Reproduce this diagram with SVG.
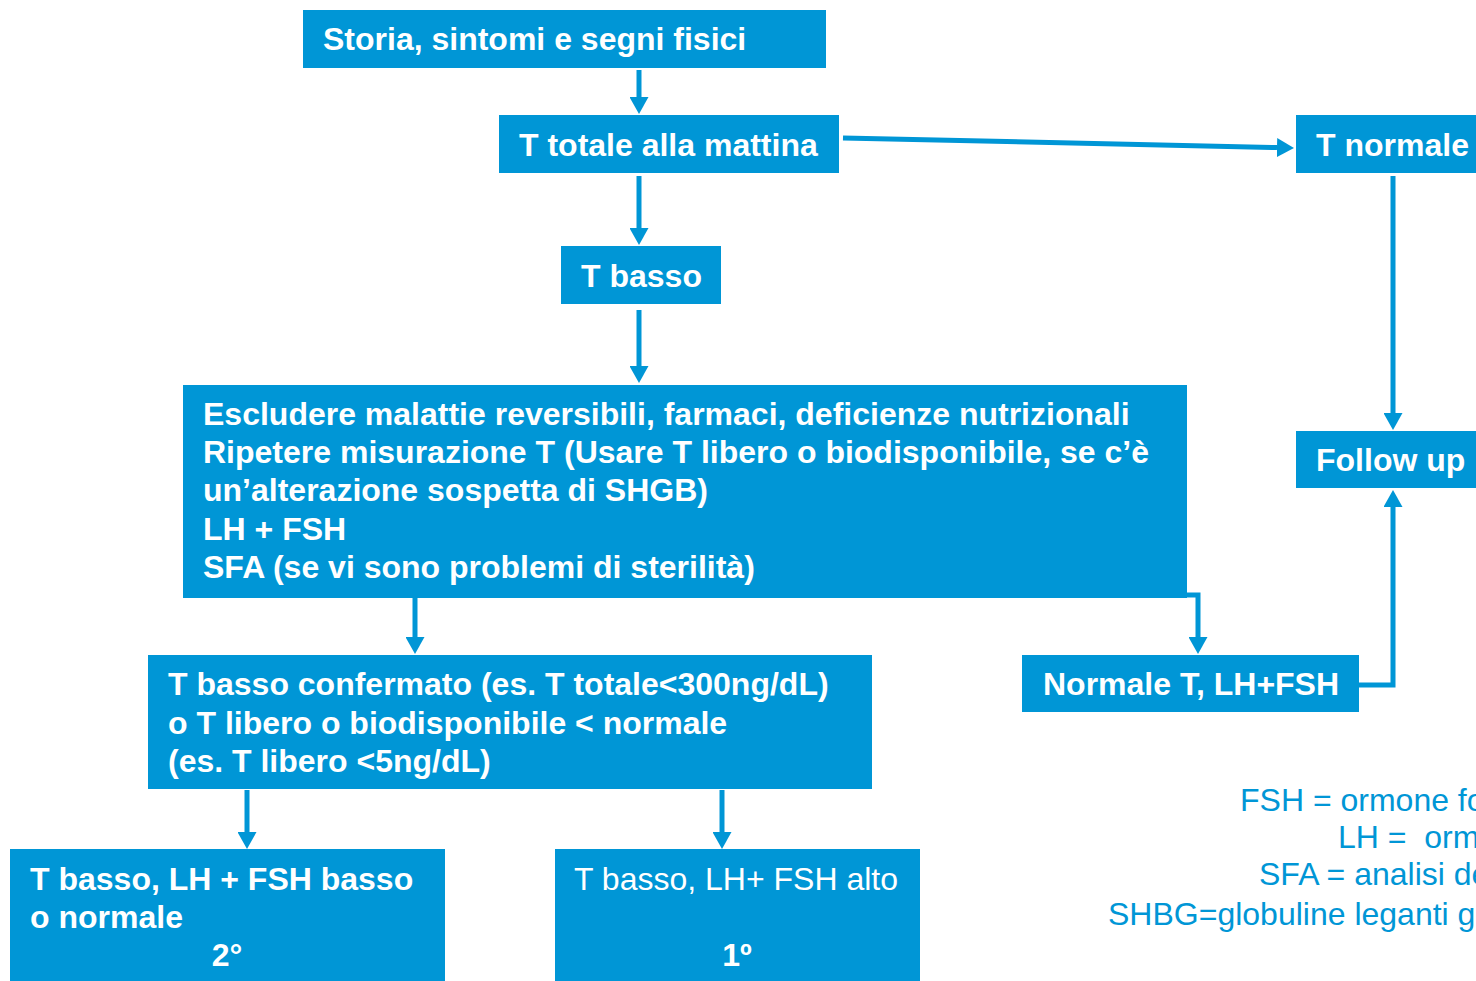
<svg xmlns="http://www.w3.org/2000/svg" width="1476" height="981" viewBox="0 0 1476 981">
<defs>
<style>
.box{fill:#0096D6}
.t{font-family:"Liberation Sans",Arial,sans-serif;fill:#fff;font-weight:bold;font-size:32px}
.r{font-family:"Liberation Sans",Arial,sans-serif;fill:#fff;font-size:32px}
.leg{font-family:"Liberation Sans",Arial,sans-serif;fill:#0096D6;font-size:32px}
.c{fill:none;stroke:#0096D6;stroke-width:5}
</style>
<marker id="ah" markerWidth="17" markerHeight="19" refX="0" refY="9.5" orient="auto" markerUnits="userSpaceOnUse" viewBox="0 0 17 19">
<path d="M0,0 L17,9.5 L0,19 z" fill="#0096D6"/>
</marker>
</defs>
<rect width="1476" height="981" fill="#fff"/>
<g id="connectors">
<line class="c" x1="639" y1="70" x2="639" y2="97" marker-end="url(#ah)"/>
<line class="c" x1="843" y1="138" x2="1277" y2="147.6" marker-end="url(#ah)"/>
<line class="c" x1="639" y1="176" x2="639" y2="228" marker-end="url(#ah)"/>
<line class="c" x1="639" y1="310" x2="639" y2="366" marker-end="url(#ah)"/>
<line class="c" x1="1393" y1="176" x2="1393" y2="413" marker-end="url(#ah)"/>
<line class="c" x1="415" y1="598" x2="415" y2="637" marker-end="url(#ah)"/>
<polyline class="c" points="1187,595 1198,595 1198,637" marker-end="url(#ah)"/>
<polyline class="c" points="1359,685 1393,685 1393,507" marker-end="url(#ah)"/>
<line class="c" x1="247" y1="790" x2="247" y2="832" marker-end="url(#ah)"/>
<line class="c" x1="722" y1="790" x2="722" y2="832" marker-end="url(#ah)"/>
</g>
<g id="n1"><rect class="box" x="303" y="10" width="523" height="58"/><text class="t" x="323" y="50">Storia, sintomi e segni fisici</text></g>
<g id="n2"><rect class="box" x="499" y="115" width="340" height="58"/><text class="t" x="519" y="156">T totale alla mattina</text></g>
<g id="n3"><rect class="box" x="1296" y="115" width="190" height="58"/><text class="t" x="1316" y="156">T normale</text></g>
<g id="n4"><rect class="box" x="561" y="246" width="160" height="58"/><text class="t" x="581" y="287">T basso</text></g>
<g id="n5"><rect class="box" x="1296" y="431" width="190" height="57"/><text class="t" x="1316" y="471">Follow up</text></g>
<g id="n6"><rect class="box" x="183" y="385" width="1004" height="213"/>
<text class="t" x="203" y="425">Escludere malattie reversibili, farmaci, deficienze nutrizionali</text>
<text class="t" x="203" y="463">Ripetere misurazione T (Usare T libero o biodisponibile, se c’è</text>
<text class="t" x="203" y="501">un’alterazione sospetta di SHGB)</text>
<text class="t" x="203" y="540">LH + FSH</text>
<text class="t" x="203" y="578">SFA (se vi sono problemi di sterilità)</text>
</g>
<g id="n7"><rect class="box" x="148" y="655" width="724" height="134"/>
<text class="t" x="168" y="695">T basso confermato (es. T totale&lt;300ng/dL)</text>
<text class="t" x="168" y="734">o T libero o biodisponibile &lt; normale</text>
<text class="t" x="168" y="772">(es. T libero &lt;5ng/dL)</text>
</g>
<g id="n8"><rect class="box" x="1022" y="655" width="337" height="57"/><text class="t" x="1043" y="695">Normale T, LH+FSH</text></g>
<g id="n9"><rect class="box" x="10" y="849" width="435" height="132"/>
<text class="t" x="30" y="890">T basso, LH + FSH basso</text>
<text class="t" x="30" y="928">o normale</text>
<text class="t" x="227" y="966" text-anchor="middle">2°</text>
</g>
<g id="n10"><rect class="box" x="555" y="849" width="365" height="132"/>
<text class="r" x="574" y="890">T basso, LH+ FSH alto</text>
<text class="t" x="737" y="966" text-anchor="middle">1º</text>
</g>
<g id="legend">
<text class="leg" x="1240" y="811">FSH = ormone fo</text>
<text class="leg" x="1338" y="848" xml:space="preserve">LH =  orm</text>
<text class="leg" x="1259" y="885">SFA = analisi de</text>
<text class="leg" x="1108" y="925">SHBG=globuline leganti gl</text>
</g>
</svg>
